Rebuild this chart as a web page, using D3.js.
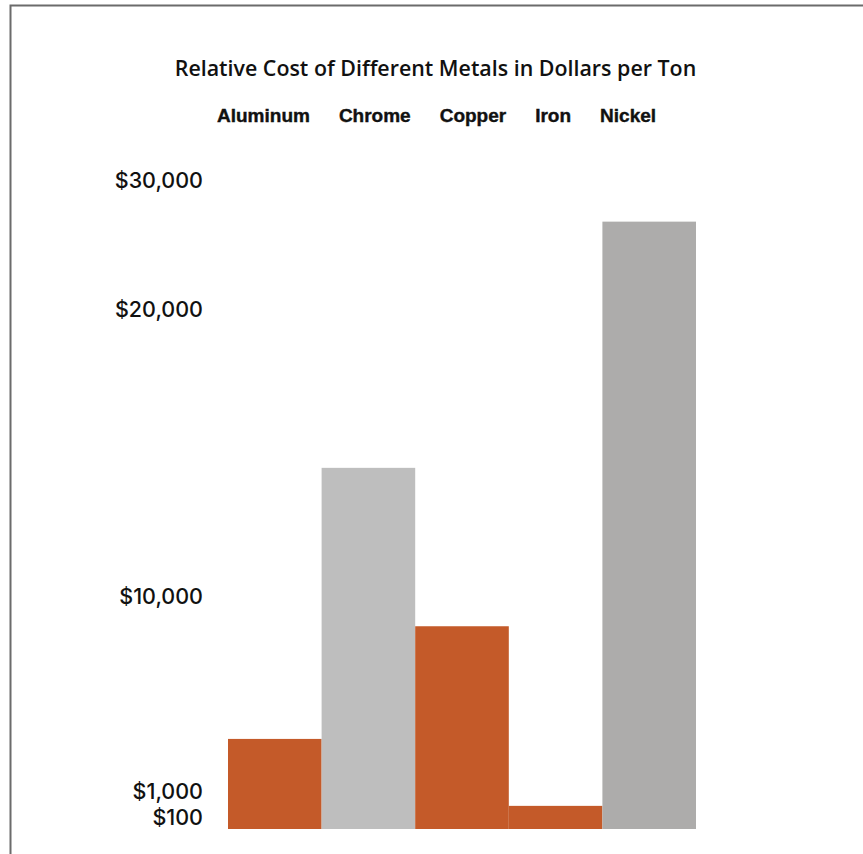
<!DOCTYPE html>
<html>
<head>
<meta charset="utf-8">
<script src="https://cdn.jsdelivr.net/npm/d3@7"></script>
<style>
  html, body { margin: 0; padding: 0; background: #fff; }
  svg { display: block; }
</style>
</head>
<body>
<div id="chart"></div>
<script>
// data
const metals = ["Aluminum", "Chrome", "Copper", "Iron", "Nickel"];
const costs = [3450, 14500, 8650, 520, 26850];
const barColours = ["#c45a29", "#bebebe", "#c45a29", "#c45a29", "#adacab"];
const tickValues = [100, 1000, 10000, 20000, 30000];
const tickLabels = ["$100", "$1,000", "$10,000", "$20,000", "$30,000"];

const width = 863, height = 854;

const svg = d3.select("#chart").append("svg")
    .attr("width", width)
    .attr("height", height);

// frame lines (top and left only, as in the original)
svg.append("path")
    .attr("d", "M10.5,854 V5.5 H863")
    .attr("fill", "none")
    .attr("stroke", "#6b6b6b")
    .attr("stroke-width", 2);

// title
svg.append("text")
    .attr("x", 435.5)
    .attr("y", 76)
    .attr("text-anchor", "middle")
    .attr("font-family", "'Open Sans', sans-serif")
    .attr("font-weight", 600)
    .attr("font-size", 21.4)
    .attr("fill", "#111")
    .text("Relative Cost of Different Metals in Dollars per Ton");

// header row of metal names, laid out left to right
let hx = 217;
svg.append("g").selectAll("text")
    .data(metals)
    .join("text")
    .attr("y", 122)
    .attr("font-family", "'Liberation Sans', Arial, sans-serif")
    .attr("font-weight", 700)
    .attr("font-size", 19)
    .attr("fill", "#111")
    .attr("stroke", "#111")
    .attr("stroke-width", 0.4)
    .text(d => d)
    .each(function () {
        d3.select(this).attr("x", hx);
        hx += this.getComputedTextLength() + 29;
    });

// scales: the original axis is stretched piecewise, not linear
const x = d3.scaleBand()
    .domain(metals)
    .range([228, 696])
    .padding(0);

const y = d3.scaleLinear()
    .domain([0, 100, 1000, 10000, 20000, 30000])
    .range([829, 818, 792, 597, 310, 181]);

// bars
svg.append("g").selectAll("rect")
    .data(metals)
    .join("rect")
    .attr("x", d => x(d))
    .attr("width", x.bandwidth())
    .attr("y", (d, i) => y(costs[i]))
    .attr("height", (d, i) => y(0) - y(costs[i]))
    .attr("fill", (d, i) => barColours[i]);

// y axis labels
const yAxis = d3.axisLeft(y)
    .tickValues(tickValues)
    .tickSize(0)
    .tickPadding(0)
    .tickFormat((d, i) => tickLabels[i]);

const gy = svg.append("g")
    .attr("transform", "translate(203,0)")
    .call(yAxis);
gy.select(".domain").remove();
gy.selectAll("text")
    .attr("font-family", "Inter, sans-serif")
    .attr("font-weight", 500)
    .attr("font-size", 21.5)
    .attr("fill", "#111");
</script>
</body>
</html>
